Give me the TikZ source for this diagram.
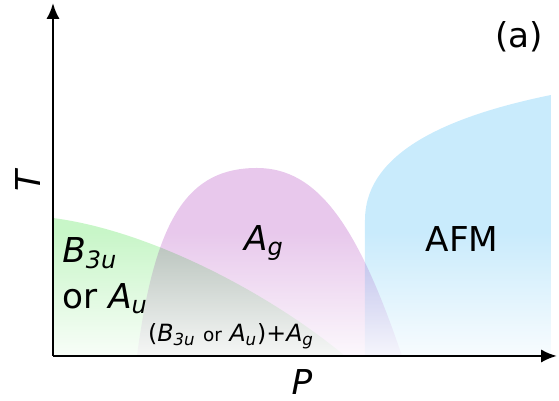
\documentclass[tikz,border=0pt]{standalone}
\usepackage{fontspec}
\setmainfont{DejaVu Sans}
\usetikzlibrary{arrows.meta,positioning,fadings}
\definecolor{phaseB}{RGB}{200,246,200}
\definecolor{phaseAg}{RGB}{232,200,236}
\definecolor{phaseAFM}{RGB}{201,235,252}

\begin{document}
\begin{tikzpicture}[x=0.02cm, y=0.02cm,
  axis/.style={line width=1.5pt, -{Latex[length=9pt,width=7.5pt]}},
  biglabel/.style={font=\fontsize{19.5}{26}\selectfont, inner sep=0pt},
  smalllabel/.style={font=\fontsize{13.5}{16}\selectfont, inner sep=0pt}]
  \useasboundingbox (-53,-45) rectangle (506,356);
  \coordinate (origin) at (0,0);
  \coordinate (pend) at (504,0);
  \coordinate (tend) at (0,353);
  % phases, overlaps multiply
  \begin{scope}[blend group=multiply]
    \fill[phaseB] (0,0) -- (0,138) .. controls (100,125) and (220,60) .. (292,0) -- cycle;
    \fill[phaseAg] (84,0) .. controls (102,138) and (135,188) .. (204,188)
      .. controls (265,188) and (305,130) .. (349,0) -- cycle;
    \fill[phaseAFM] (312,0) -- (312,136) .. controls (312,195) and (375,236) .. (498,261)
      -- (498,0) -- cycle;
  \end{scope}
  % fade to white near P axis
  \fill[white, path fading=north, fill opacity=0.88] (0,0) rectangle (499,125);
  \draw[axis] (origin) -- (pend);
  \draw[axis] (origin) -- (tend);
  \node[biglabel, rotate=90] (tlabel) at (-25,176) {\textit{T}};
  \node[biglabel] (plabel) at (249,-26) {\textit{P}};
  \node[biglabel] (tag) at (466,319) {(a)};
  \node[biglabel] (aglabel) at (211,113) {\textit{A}\textsubscript{\textit{g}}};
  \node[biglabel] (afmlabel) at (409,117) {AFM};
  \node[biglabel, anchor=west, align=left] (bulabel) at (9,80)
    {\textit{B}\textsubscript{\textit{3u}}\\or \textit{A}\textsubscript{\textit{u}}};
  \node[smalllabel] (mixlabel) at (178,20)
    {(\textit{B}\textsubscript{\textit{3u}} {\fontsize{10.5}{12}\selectfont or} \textit{A}\textsubscript{\textit{u}})+\textit{A}\textsubscript{\textit{g}}};
\end{tikzpicture}
\end{document}
